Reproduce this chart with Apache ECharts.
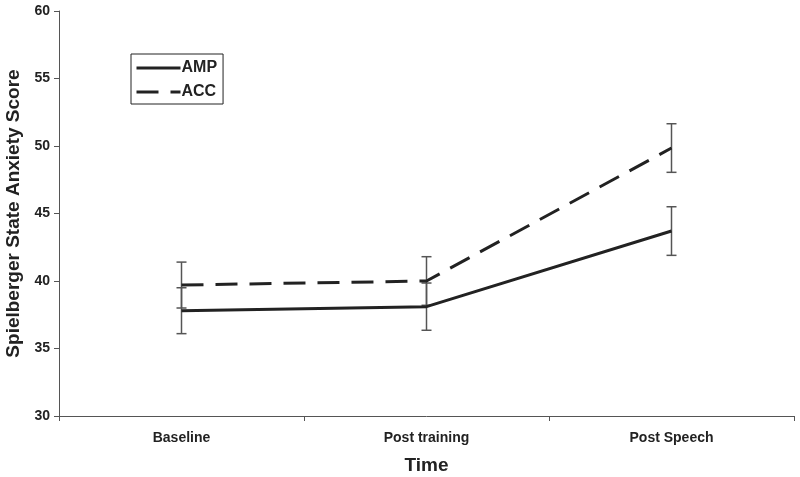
<!DOCTYPE html>
<html><head><meta charset="utf-8">
<script src="https://cdn.jsdelivr.net/npm/echarts@6/dist/echarts.min.js"></script>
<style>html,body{margin:0;padding:0;background:#fff}#c{width:800px;height:477px}</style>
</head><body><div id="c"></div>
<script>
const categories = ['Baseline', 'Post training', 'Post Speech'];
const ampValues = [37.8, 38.1, 43.7];
const ampErrors = [1.7, 1.75, 1.8];
const accValues = [39.7, 40.0, 49.85];
const accErrors = [1.7, 1.8, 1.8];
const yTicks = [30, 35, 40, 45, 50, 55, 60];

const font = '"Liberation Sans", Arial, sans-serif';
const chart = echarts.init(document.getElementById('c'), null, {renderer: 'canvas'});

function errData(vals, errs) {
  return vals.map((v, i) => [i, v - errs[i], v + errs[i]]);
}
function errSeries(vals, errs) {
  return {
    type: 'custom',
    silent: true,
    z: 1,
    data: errData(vals, errs),
    renderItem: function (params, api) {
      const x = api.value(0);
      const lo = api.coord([x, api.value(1)]);
      const hi = api.coord([x, api.value(2)]);
      const w = 5;
      const style = {stroke: '#555', lineWidth: 1.5};
      return {
        type: 'group',
        children: [
          {type: 'line', shape: {x1: lo[0], y1: lo[1], x2: hi[0], y2: hi[1]}, style: style},
          {type: 'line', shape: {x1: lo[0] - w, y1: lo[1], x2: lo[0] + w, y2: lo[1]}, style: style},
          {type: 'line', shape: {x1: hi[0] - w, y1: hi[1], x2: hi[0] + w, y2: hi[1]}, style: style}
        ]
      };
    }
  };
}

chart.setOption({
  animation: false,
  backgroundColor: '#fff',
  textStyle: {fontFamily: font},
  grid: {left: 59, right: 6, top: 11, bottom: 61, outerBoundsMode: 'none', containLabel: false},
  legend: {
    left: 131, top: 54,
    orient: 'vertical',
    data: ['AMP', 'ACC'],
    itemWidth: 44, itemHeight: 10, itemGap: 8,
    itemStyle: {opacity: 0},
    lineStyle: {width: 3},
    borderColor: '#222', borderWidth: 1,
    padding: [6, 6, 4, 4],
    textStyle: {fontFamily: font, fontWeight: 'bold', fontSize: 16, color: '#222', padding: [0, 0, 0, -4]},
    backgroundColor: '#fff'
  },
  xAxis: {
    type: 'category',
    data: categories,
    boundaryGap: true,
    axisLine: {lineStyle: {color: '#555', width: 1}},
    axisTick: {show: true, length: 5, alignWithLabel: false, lineStyle: {color: '#555'}},
    axisLabel: {fontFamily: font, fontWeight: 'bold', fontSize: 14, color: '#222', margin: 15},
    name: 'Time',
    nameLocation: 'middle',
    nameGap: 40,
    nameTextStyle: {fontFamily: font, fontWeight: 'bold', fontSize: 19, color: '#222'}
  },
  yAxis: {
    type: 'value',
    min: yTicks[0], max: yTicks[yTicks.length - 1], interval: 5,
    splitLine: {show: false},
    axisLine: {show: true, lineStyle: {color: '#555', width: 1}},
    axisTick: {show: true, length: 5, lineStyle: {color: '#555'}},
    axisLabel: {fontFamily: font, fontWeight: 'bold', fontSize: 14, color: '#222', margin: 9},
    name: 'Spielberger State Anxiety Score',
    nameLocation: 'middle',
    nameGap: 36,
    nameRotate: 90,
    nameTextStyle: {fontFamily: font, fontWeight: 'bold', fontSize: 19, color: '#222'}
  },
  series: [
    errSeries(ampValues, ampErrors),
    errSeries(accValues, accErrors),
    {
      name: 'AMP', type: 'line', data: ampValues, z: 3,
      symbol: 'none', showSymbol: false,
      lineStyle: {color: '#222', width: 3, type: 'solid'},
      itemStyle: {color: '#222'}
    },
    {
      name: 'ACC', type: 'line', data: accValues, z: 3,
      symbol: 'none', showSymbol: false,
      lineStyle: {color: '#222', width: 3, type: [22, 12]},
      itemStyle: {color: '#222'}
    }
  ]
});
</script></body></html>
